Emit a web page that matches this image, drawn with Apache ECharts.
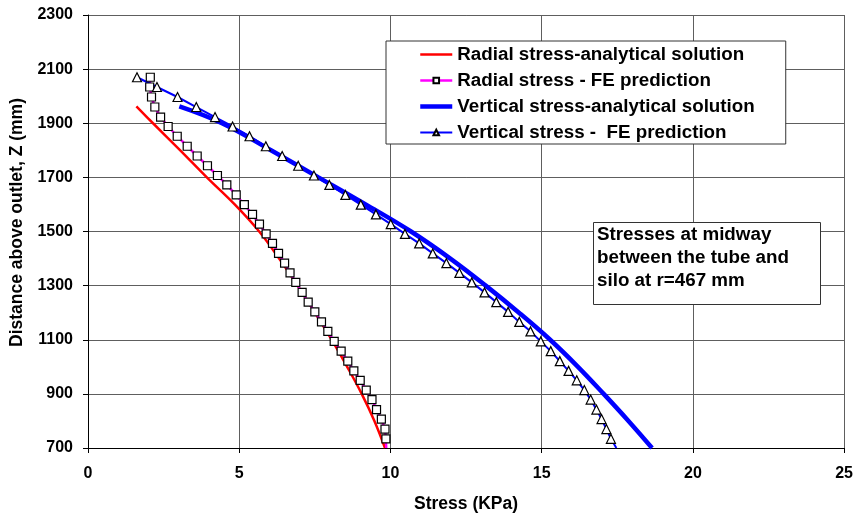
<!DOCTYPE html>
<html><head><meta charset="utf-8">
<script src="https://cdn.jsdelivr.net/npm/echarts@6/dist/echarts.min.js"></script>
<style>html,body{margin:0;padding:0;background:#fff}#c{width:856px;height:518px}</style>
</head><body><div id="c"></div>
<script>
// Depth (Z, mm) of the FE nodes
const zFE = [2070,2034,1997,1960,1923,1888,1852,1815,1779,1743,1707,1672,1635,1599,1563,1527,1491,1456,1419,1383,1347,1312,1275,1239,1203,1166,1131,1094,1058,1021,985,950,914,879,842,807,770,734,700];
// Radial stress, FE prediction (kPa)
const radialFE = [2.06,2.04,2.10,2.21,2.40,2.65,2.95,3.28,3.61,3.95,4.28,4.59,4.90,5.17,5.44,5.67,5.89,6.10,6.30,6.50,6.68,6.87,7.08,7.28,7.50,7.72,7.93,8.14,8.37,8.59,8.79,9.00,9.20,9.39,9.54,9.70,9.82,9.85,9.86];
// Vertical stress, FE prediction (kPa)
const verticalFE = [1.62,2.28,2.96,3.58,4.20,4.78,5.34,5.88,6.42,6.95,7.47,7.98,8.51,9.02,9.52,10.01,10.48,10.95,11.40,11.85,12.28,12.69,13.11,13.50,13.89,14.26,14.63,14.97,15.30,15.60,15.89,16.16,16.41,16.62,16.81,16.98,17.14,17.29,17.47];
// Analytical solutions
const zAnalytical = [1962,1900,1800,1700,1600,1500,1400,1300,1200,1100,1000,900,800,700];
const radialAnalytical = [1.60,2.15,3.05,3.93,4.85,5.66,6.32,6.93,7.50,8.06,8.57,9.05,9.47,9.82];
const verticalAnalytical = [3.02,4.43,6.05,7.62,9.18,10.68,11.98,13.15,14.25,15.28,16.20,17.05,17.87,18.65];

const seriesNames = ['Radial stress-analytical solution','Radial stress - FE prediction','Vertical stress-analytical solution','Vertical stress -  FE prediction'];
const xAxisTitle = 'Stress (KPa)';
const yAxisTitle = 'Distance above outlet, Z (mm)';
const noteLines = ['Stresses at midway','between the tube and','silo at r=467 mm'];

const FONT = 'Liberation Sans, Arial, sans-serif';
const pairs = (xs, zs, lastNoSymbol) => zs.map((z, i) => {
  const v = [xs[i], z];
  return (lastNoSymbol && i === zs.length - 1) ? { value: v, symbol: 'none' } : v;
});

const chart = echarts.init(document.getElementById('c'), null, { renderer: 'canvas' });
chart.setOption({
  animation: false,
  backgroundColor: '#fff',
  grid: { left: 88, right: 11, top: 15, bottom: 70, containLabel: false },
  xAxis: {
    type: 'value', min: 0, max: 25, interval: 5,
    name: xAxisTitle, nameLocation: 'middle', nameGap: 47,
    nameTextStyle: { fontFamily: FONT, fontWeight: 'bold', fontSize: 17.5, color: '#000' },
    axisLine: { show: true, onZero: false, lineStyle: { color: '#000', width: 1 } },
    axisTick: { show: true, inside: false, length: 5, lineStyle: { color: '#000' } },
    axisLabel: { margin: 18, fontFamily: FONT, fontWeight: 'bold', fontSize: 16, color: '#000', formatter: v => String(v) },
    splitLine: { show: true, lineStyle: { color: '#5e5e5e', width: 1 } }
  },
  yAxis: {
    type: 'value', min: 700, max: 2300, interval: 200,
    name: yAxisTitle, nameLocation: 'middle', nameGap: 55, nameRotate: 90,
    nameTextStyle: { fontFamily: FONT, fontWeight: 'bold', fontSize: 17.5, color: '#000', padding: [0, 0, 0, 18] },
    axisLine: { show: true, onZero: false, lineStyle: { color: '#000', width: 1 } },
    axisTick: { show: true, inside: false, length: 5, lineStyle: { color: '#000' } },
    axisLabel: { margin: 15, fontFamily: FONT, fontWeight: 'bold', fontSize: 16, color: '#000', formatter: v => String(v) },
    splitLine: { show: true, lineStyle: { color: '#5e5e5e', width: 1 } }
  },
  legend: {
    orient: 'vertical', left: 386, top: 41, z: 50,
    padding: [4, 31, 2, 32], itemGap: 7, itemWidth: 32, itemHeight: 7,
    backgroundColor: '#fff', borderColor: '#333', borderWidth: 1,
    selectedMode: false,
    textStyle: { fontFamily: FONT, fontWeight: 'bold', fontSize: 18.8, color: '#000' },
    data: [
      { name: seriesNames[0], itemStyle: { opacity: 0 }, lineStyle: { width: 2.5 } },
      { name: seriesNames[1], lineStyle: { width: 2.5 } },
      { name: seriesNames[2], itemStyle: { opacity: 0 }, lineStyle: { width: 4.5 } },
      { name: seriesNames[3], lineStyle: { width: 2 } }
    ]
  },
  graphic: [
    { type: 'rect', left: 593, top: 222, z: 100, zlevel: 1, shape: { x: 0, y: 0, width: 227, height: 82 }, style: { fill: '#fff', stroke: '#333', lineWidth: 1 } },
    { type: 'text', left: 597, top: 223, z: 101, zlevel: 1, style: { text: noteLines.join('\n'), font: 'bold 18.8px Liberation Sans, Arial, sans-serif', lineHeight: 23, fill: '#000' } }
  ],
  series: [
    {
      name: seriesNames[0], type: 'line', data: pairs(radialAnalytical, zAnalytical, false),
      symbol: 'none', smooth: 0.4, lineStyle: { color: '#ff0000', width: 2.5 }, itemStyle: { color: '#ff0000' }
    },
    {
      name: seriesNames[1], type: 'line', data: pairs(radialFE, zFE, true),
      symbol: 'rect', symbolSize: 8, showAllSymbol: true,
      lineStyle: { color: '#ff00ff', width: 2.5 },
      itemStyle: { color: '#fff', borderColor: '#000', borderWidth: 1.2 }
    },
    {
      name: seriesNames[2], type: 'line', data: pairs(verticalAnalytical, zAnalytical, false),
      symbol: 'none', smooth: 0.4, lineStyle: { color: '#0000ff', width: 4.5 }, itemStyle: { color: '#0000ff' }
    },
    {
      name: seriesNames[3], type: 'line', data: pairs(verticalFE, zFE, true),
      symbol: 'triangle', symbolSize: 9, showAllSymbol: true,
      lineStyle: { color: '#0000ff', width: 2 },
      itemStyle: { color: '#fff', borderColor: '#000', borderWidth: 1.2 }
    }
  ]
});
</script>
</body></html>
